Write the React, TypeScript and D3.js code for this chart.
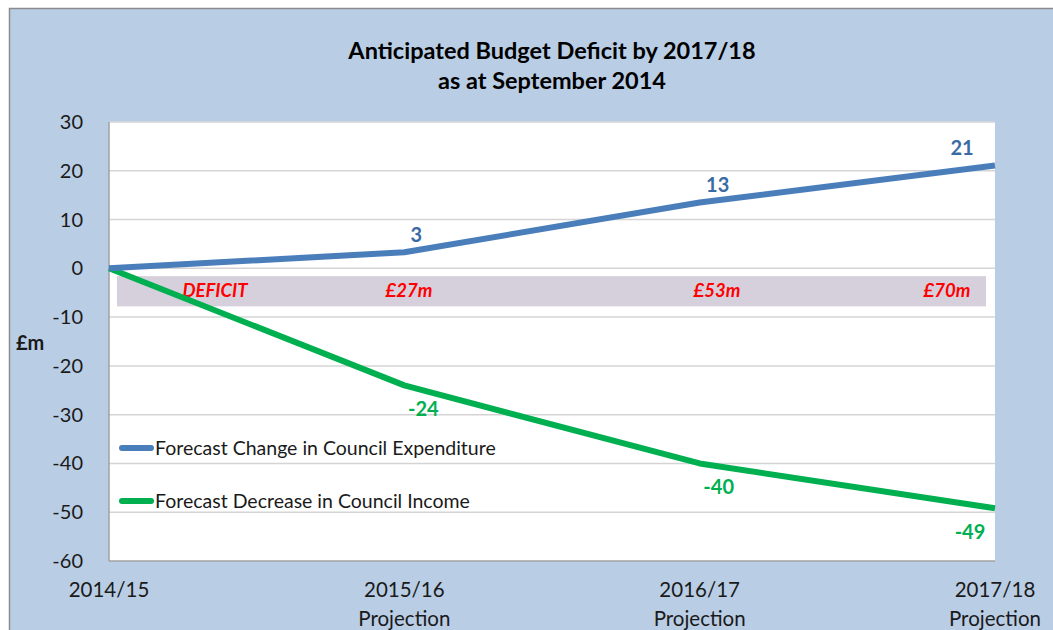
import React, { useEffect, useRef } from "react";
import * as d3 from "d3";

const categories = ["2014/15", "2015/16", "2016/17", "2017/18"];
const subLabels = ["", "Projection", "Projection", "Projection"];
const expenditure = [0, 3.3, 13.5, 21.1];
const expenditureLabels = ["", "3", "13", "21"];
const income = [0, -24, -40, -49.2];
const incomeLabels = ["", "-24", "-40", "-49"];
const yTicks = [30, 20, 10, 0, -10, -20, -30, -40, -50, -60];
const deficitBand = [-1.6, -7.8];
const deficitLabels = ["DEFICIT", "£27m", "£53m", "£70m"];
const seriesNames = ["Forecast Change in Council Expenditure", "Forecast Decrease in Council Income"];

const FONT = "Lato, 'Open Sans', sans-serif";

export default function App() {
  const ref = useRef<SVGSVGElement>(null);

  useEffect(() => {
    const svg = d3.select(ref.current);
    svg.selectAll("*").remove();
    const width = 1053;
    const height = 630;
    const left = 109;
    const right = 995;
    const top = 122;
    const bottom = 561;

    svg.append("rect")
      .attr("x", 9.5).attr("y", 8.5)
      .attr("width", width).attr("height", height)
      .attr("fill", "#b9cde5")
      .attr("stroke", "#8c8c8c").attr("stroke-width", 1.5);

    const x = d3.scalePoint().domain(categories).range([left, right]);
    const y = d3.scaleLinear().domain([-60, 30]).range([bottom, top]);

    // plot area
    svg.append("rect")
      .attr("x", left).attr("y", top)
      .attr("width", right - left).attr("height", bottom - top)
      .attr("fill", "#ffffff");

    svg.append("g")
      .selectAll("line")
      .data(yTicks.filter(d => d !== -60))
      .enter()
      .append("line")
      .attr("x1", left).attr("x2", right)
      .attr("y1", d => y(d)).attr("y2", d => y(d))
      .attr("stroke", "#d4d4d4").attr("stroke-width", 1.5);

    svg.append("line")
      .attr("x1", left).attr("x2", left).attr("y1", top).attr("y2", bottom)
      .attr("stroke", "#a0a0a0").attr("stroke-width", 1.5);
    svg.append("line")
      .attr("x1", left).attr("x2", right).attr("y1", bottom).attr("y2", bottom)
      .attr("stroke", "#a0a0a0").attr("stroke-width", 1.5);

    // deficit band
    svg.append("rect")
      .attr("x", left + 8).attr("width", right - left - 17)
      .attr("y", y(deficitBand[0])).attr("height", y(deficitBand[1]) - y(deficitBand[0]))
      .attr("fill", "#d6d0dd");

    const deficitX = [215, 409, 717, 947];
    svg.append("g")
      .selectAll("text")
      .data(deficitLabels)
      .enter()
      .append("text")
      .attr("x", (d, i) => deficitX[i])
      .attr("y", y((deficitBand[0] + deficitBand[1]) / 2) + 6)
      .attr("text-anchor", "middle")
      .attr("fill", "#ff0000")
      .style("font", "italic bold 18.5px " + FONT)
      .text(d => d);

    // y axis labels
    svg.append("g")
      .selectAll("text")
      .data(yTicks)
      .enter()
      .append("text")
      .attr("x", 83)
      .attr("y", d => y(d) + 7)
      .attr("text-anchor", "end")
      .attr("fill", "#1a1a1a")
      .style("font", "20px " + FONT)
      .text(d => d);

    svg.append("text")
      .attr("x", 16).attr("y", 350)
      .attr("fill", "#1a1a1a")
      .style("font", "bold 20px " + FONT)
      .text("£m");

    // x labels
    const xl = svg.append("g").selectAll("g").data(categories).enter().append("g");
    xl.append("text")
      .attr("x", d => x(d) as number)
      .attr("y", 597)
      .attr("text-anchor", "middle")
      .attr("fill", "#1a1a1a")
      .style("font", "20.5px " + FONT)
      .text(d => d);
    xl.append("text")
      .attr("x", d => x(d) as number)
      .attr("y", 626)
      .attr("text-anchor", "middle")
      .attr("fill", "#1a1a1a")
      .style("font", "20.5px " + FONT)
      .text((d, i) => subLabels[i]);

    // lines
    const line = d3.line<number>()
      .x((d, i) => x(categories[i]) as number)
      .y(d => y(d));
    svg.append("path").datum(income)
      .attr("d", line).attr("fill", "none")
      .attr("stroke", "#00b050").attr("stroke-width", 6)
      .attr("stroke-linejoin", "round");
    svg.append("path").datum(expenditure)
      .attr("d", line).attr("fill", "none")
      .attr("stroke", "#4a7ebb").attr("stroke-width", 6)
      .attr("stroke-linejoin", "round");

    // data labels
    const expDx = [0, 12, 18, -33];
    svg.append("g").selectAll("text").data(expenditure).enter().append("text")
      .attr("x", (d, i) => (x(categories[i]) as number) + expDx[i])
      .attr("y", d => y(d) - 10)
      .attr("text-anchor", "middle")
      .attr("fill", "#3b6ba5")
      .style("font", "bold 20px " + FONT)
      .text((d, i) => expenditureLabels[i]);
    const incDx = [0, 19, 19, -25];
    svg.append("g").selectAll("text").data(income).enter().append("text")
      .attr("x", (d, i) => (x(categories[i]) as number) + incDx[i])
      .attr("y", d => y(d) + 31)
      .attr("text-anchor", "middle")
      .attr("fill", "#00b050")
      .style("font", "bold 20px " + FONT)
      .text((d, i) => incomeLabels[i]);

    // legend
    const legendY = [448, 501];
    const legendColors = ["#4a7ebb", "#00b050"];
    const lg = svg.append("g").selectAll("g").data(seriesNames).enter().append("g");
    lg.append("line")
      .attr("x1", 122).attr("x2", 151)
      .attr("y1", (d, i) => legendY[i]).attr("y2", (d, i) => legendY[i])
      .attr("stroke", (d, i) => legendColors[i]).attr("stroke-width", 6)
      .attr("stroke-linecap", "round");
    lg.append("text")
      .attr("x", 155)
      .attr("y", (d, i) => legendY[i] + 7)
      .attr("fill", "#1a1a1a")
      .style("font", "19.5px " + FONT)
      .text(d => d);

    // title
    svg.append("text")
      .attr("x", 552).attr("y", 59)
      .attr("text-anchor", "middle")
      .attr("fill", "#000000")
      .style("font", "bold 23.5px " + FONT)
      .text("Anticipated Budget Deficit by 2017/18");
    svg.append("text")
      .attr("x", 552).attr("y", 89)
      .attr("text-anchor", "middle")
      .attr("fill", "#000000")
      .style("font", "bold 23.5px " + FONT)
      .text("as at September 2014");
  }, []);

  return (
    <svg ref={ref} width={1053} height={630}
      style={{ position: "absolute", left: 0, top: 0, display: "block" }} />
  );
}
